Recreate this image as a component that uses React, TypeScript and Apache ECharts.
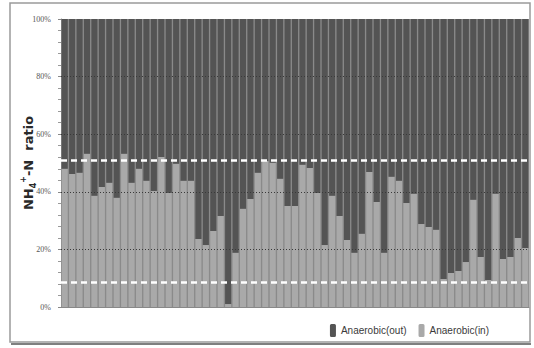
import React, { useEffect, useRef } from "react";
import * as echarts from "echarts";

const categories: string[] = Array.from({ length: 63 }, (_, i) => String(i + 1));

const inValues: number[] = [
  48.0, 46.2, 46.6, 53.2, 38.6, 41.7, 43.1, 37.9, 53.2, 43.1,
  48.0, 43.8, 40.3, 52.1, 39.6, 49.7, 43.8, 43.8, 23.6, 21.5,
  26.4, 31.6, 1.0, 18.8, 34.1, 37.5, 46.6, 50.7, 50.1, 44.5,
  35.1, 35.1, 49.4, 48.3, 39.6, 21.5, 38.6, 31.6, 23.3, 18.8,
  25.4, 46.9, 36.5, 18.8, 45.2, 43.8, 36.1, 39.3, 28.8, 27.8,
  26.8, 9.7, 11.8, 12.5, 15.6, 37.2, 17.4, 9.4, 39.3, 16.7,
  17.4, 24.0, 20.5,
];
const outValues: number[] = inValues.map((v) => +(100 - v).toFixed(1));

const yTicks: number[] = [0, 20, 40, 60, 80, 100];
const gridLevels: number[] = [20, 40, 60, 80];
const thresholdLevels: number[] = [51, 8.5];

export default function App() {
  const ref = useRef<HTMLDivElement>(null);
  useEffect(() => {
    if (!ref.current) return;
    const chart = echarts.init(ref.current, null, { renderer: "svg" });
    const nameFont = { fontWeight: "bold", color: "#2a2a2a", fontFamily: "DejaVu Sans", lineHeight: 18 };
    chart.setOption({
      animation: false,
      backgroundColor: "#ffffff",
      graphic: [
        {
          type: "rect",
          shape: { x: 10, y: 3, width: 520, height: 339 },
          style: { fill: "none", stroke: "#9a9a9a", lineWidth: 1.5 },
          z: 0,
        },
        {
          type: "line",
          shape: { x1: 11, y1: 344, x2: 531, y2: 344 },
          style: { stroke: "#555", lineWidth: 1.5 },
          z: 0,
        },
      ],
      grid: {
        left: 61,
        right: 5,
        top: 19,
        bottom: 41,
        show: true,
        backgroundColor: "#8a8a8a",
        borderWidth: 0,
      },
      legend: {
        data: ["Anaerobic(out)", "Anaerobic(in)"],
        right: 40,
        top: 319,
        itemWidth: 6,
        itemHeight: 13,
        itemGap: 12,
        textStyle: { fontSize: 10, color: "#3a3a3a", fontFamily: "Liberation Sans Narrow, Liberation Sans, sans-serif" },
      },
      xAxis: {
        type: "category",
        data: categories,
        axisLabel: { show: false },
        axisTick: { show: false },
        axisLine: { show: true, lineStyle: { color: "#888" } },
      },
      yAxis: {
        type: "value",
        min: 0,
        max: 100,
        interval: 20,
        name: "{b|NH}{s|4}{p|+}{b|-N  ratio}",
        nameLocation: "middle",
        nameRotate: 90,
        nameGap: 24,
        nameMoveOverlap: false,
        nameTextStyle: {
          rich: {
            b: { ...nameFont, fontSize: 13 },
            s: { ...nameFont, fontSize: 8, verticalAlign: "bottom", padding: [7, 0, 0, 0] },
            p: { ...nameFont, fontSize: 8, verticalAlign: "top", padding: [0, 0, 7, 0] },
          },
        },
        axisLabel: {
          formatter: (v: number) => (yTicks.includes(v) ? v + "%" : ""),
          fontSize: 8,
          color: "#555",
          fontFamily: "Liberation Serif, serif",
          margin: 10,
        },
        axisLine: { show: true, lineStyle: { color: "#888" } },
        axisTick: { show: true, length: 3, lineStyle: { color: "#888" } },
        minorTick: { show: true, splitNumber: 5, length: 3, lineStyle: { color: "#999" } },
        splitLine: { show: false },
      },
      series: [
        {
          name: "Anaerobic(in)",
          type: "bar",
          stack: "total",
          data: inValues,
          barCategoryGap: "18%",
          itemStyle: { color: "#a9a9a9" },
        },
        {
          name: "Anaerobic(out)",
          type: "bar",
          stack: "total",
          data: outValues,
          barCategoryGap: "18%",
          itemStyle: { color: "#545454" },
        },
        {
          name: "refs",
          type: "line",
          data: [],
          z: 10,
          silent: true,
          markLine: {
            silent: true,
            symbol: "none",
            label: { show: false },
            data: [
              ...gridLevels.map((y) => ({
                yAxis: y,
                lineStyle: { color: "#3a3a3a", type: [1, 2], width: 1 },
              })),
              ...thresholdLevels.map((y) => ({
                yAxis: y,
                lineStyle: { color: "#ffffff", type: [6, 4], width: 2.5 },
              })),
            ],
          },
        },
      ],
    });
    return () => chart.dispose();
  }, []);
  return (
    <div
      ref={ref}
      style={{ position: "fixed", left: 0, top: 0, width: 534, height: 348 }}
    />
  );
}
